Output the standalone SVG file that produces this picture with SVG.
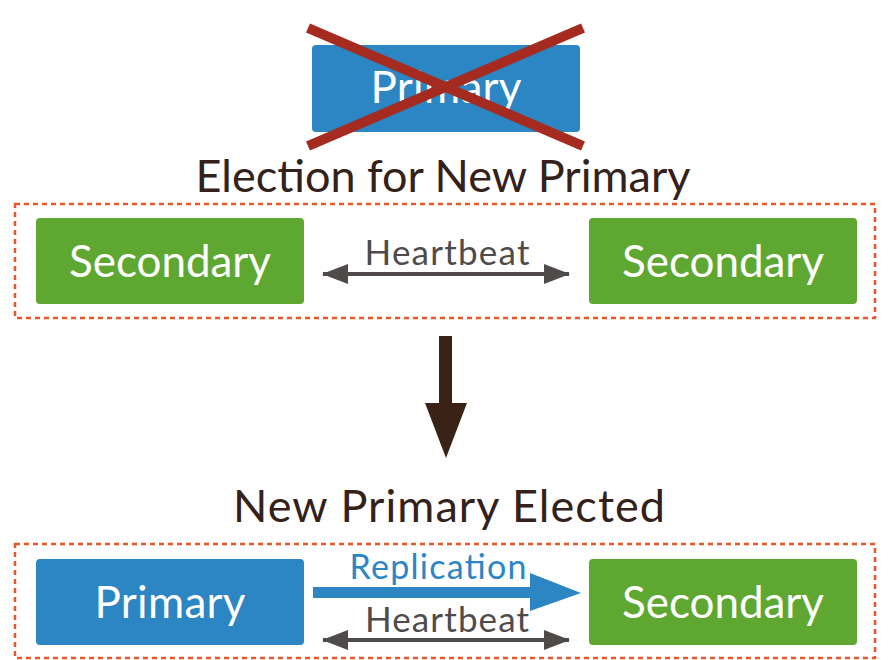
<svg xmlns="http://www.w3.org/2000/svg" width="890" height="660" viewBox="0 0 890 660">
<style>
.lbl{font-family:Lato,"Open Sans","Liberation Sans",sans-serif;text-anchor:middle}
.box-text{fill:#ffffff;font-size:44px}
.title{fill:#33211a;font-size:45px}
.hb{fill:#4f4b4b;font-size:35px}
.blue{fill:#2b86c3}
.green{fill:#5ea832}
.group{fill:none;stroke:#e8562a;stroke-width:2.5;stroke-dasharray:5,4}
</style>
<defs>
<marker id="hbHead" viewBox="0 0 13 10" refX="12.5" refY="5" markerWidth="6.5" markerHeight="5" orient="auto-start-reverse" markerUnits="strokeWidth">
<path d="M0,0 L13,5 L0,10 z" fill="#4f4b4b"/>
</marker>
</defs>
<rect width="890" height="660" fill="#ffffff"/>

<g id="old-primary">
<rect class="blue" x="312" y="45" width="268" height="87" rx="4"/>
<text class="lbl box-text" x="446" y="103" textLength="151">Primary</text>
<g stroke="#a52a1f" stroke-width="10" stroke-linecap="butt">
<line x1="308" y1="28" x2="583" y2="146"/>
<line x1="583" y1="28" x2="308" y2="146"/>
</g>
</g>

<g id="title-election">
<text class="lbl title" x="443" y="192" textLength="495">Election for New Primary</text>
</g>

<g id="election-group">
<rect class="group" x="15" y="204" width="860" height="114"/>
</g>

<g id="secondary-a">
<rect class="green" x="36" y="218" width="268" height="86" rx="4"/>
<text class="lbl box-text" x="170" y="277" textLength="202">Secondary</text>
</g>

<g id="secondary-b">
<rect class="green" x="589" y="218" width="268" height="86" rx="4"/>
<text class="lbl box-text" x="723" y="277" textLength="202">Secondary</text>
</g>

<g id="title-elected">
<text class="lbl title" x="449" y="522" textLength="432">New Primary Elected</text>
</g>

<g id="elected-group">
<rect class="group" x="15" y="544" width="860" height="114"/>
</g>

<g id="new-primary">
<rect class="blue" x="36" y="559" width="268" height="86" rx="4"/>
<text class="lbl box-text" x="170" y="618" textLength="151">Primary</text>
</g>

<g id="secondary-c">
<rect class="green" x="589" y="559" width="268" height="86" rx="4"/>
<text class="lbl box-text" x="723" y="618" textLength="202">Secondary</text>
</g>

<g id="connectors">
<line x1="323" y1="274" x2="569" y2="274" stroke="#4f4b4b" stroke-width="4" marker-start="url(#hbHead)" marker-end="url(#hbHead)"/>
<text class="lbl hb" x="447" y="265" textLength="165">Heartbeat</text>

<polygon points="439,336 452,336 452,403 467,403 446,458 425,403 439,403" fill="#3a2216"/>

<polygon points="313,587 530,587 530,573 581,593 530,611 530,598 313,598" fill="#2b86c3"/>
<text class="lbl" x="438" y="579" font-size="34" fill="#2b86c3" textLength="177">Replication</text>

<line x1="323" y1="640" x2="569" y2="640" stroke="#4f4b4b" stroke-width="4" marker-start="url(#hbHead)" marker-end="url(#hbHead)"/>
<text class="lbl hb" x="447" y="632" textLength="164">Heartbeat</text>
</g>
</svg>
